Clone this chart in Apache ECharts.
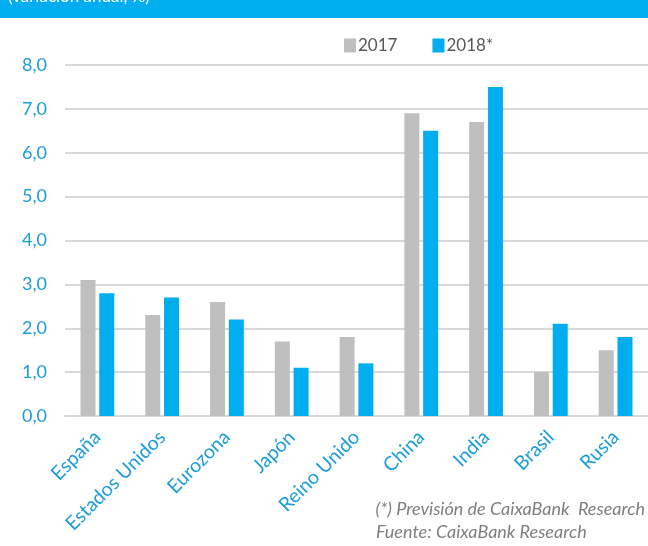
<!DOCTYPE html>
<html>
<head>
<meta charset="utf-8">
<script src="https://cdn.jsdelivr.net/npm/echarts@6/dist/echarts.min.js"></script>
<style>
  html, body { margin: 0; padding: 0; background: #fff; }
  #chart { width: 648px; height: 546px; }
</style>
</head>
<body>
<div id="chart"></div>
<script>
// datos
var paises = ['España', 'Estados Unidos', 'Eurozona', 'Japón', 'Reino Unido', 'China', 'India', 'Brasil', 'Rusia'];
var datos2017 = [3.1, 2.3, 2.6, 1.7, 1.8, 6.9, 6.7, 1.0, 1.5];
var datos2018 = [2.8, 2.7, 2.2, 1.1, 1.2, 6.5, 7.5, 2.1, 1.8];
var ticksY = [0, 1, 2, 3, 4, 5, 6, 7, 8];

var chart = echarts.init(document.getElementById('chart'));

var fuente = 'Lato, "Open Sans", sans-serif';

var option = {
    animation: false,
    textStyle: { fontFamily: fuente },
    legend: {
        data: ['2017', '2018*'],
        top: 32,
        left: 339,
        itemWidth: 12,
        itemHeight: 14,
        itemGap: 35,
        icon: 'rect',
        textStyle: { fontSize: 17, color: '#595959', fontFamily: fuente, padding: [0, 0, 0, -3] }
    },
    grid: {
        left: 65,
        right: -7,
        top: 65,
        bottom: 130,
        containLabel: false
    },
    xAxis: {
        type: 'category',
        data: paises,
        axisLine: { show: true, lineStyle: { color: '#d9d9d9', width: 2 } },
        axisTick: { show: false },
        axisLabel: {
            rotate: 45,
            interval: 0,
            color: '#1b9dd9',
            fontSize: 19.5,
            margin: 18
        }
    },
    yAxis: {
        type: 'value',
        min: ticksY[0],
        max: ticksY[ticksY.length - 1],
        interval: 1,
        axisLine: { show: false },
        axisTick: { show: false },
        splitLine: { lineStyle: { color: '#d9d9d9', width: 2 } },
        axisLabel: {
            color: '#1b9dd9',
            fontSize: 18,
            margin: 18,
            formatter: function (v) { return v.toFixed(1).replace('.', ','); }
        }
    },
    series: [
        {
            name: '2017',
            type: 'bar',
            data: datos2017,
            barWidth: 15,
            barGap: '25%',
            itemStyle: { color: '#bfbfbf' }
        },
        {
            name: '2018*',
            type: 'bar',
            data: datos2018,
            barWidth: 15,
            itemStyle: { color: '#00aeef' }
        }
    ],
    graphic: [
        {
            type: 'rect',
            left: 0,
            top: 0,
            shape: { width: 648, height: 18 },
            style: { fill: '#00aeef' }
        },
        {
            type: 'text',
            left: 8,
            top: -12,
            style: { text: '(variación anual, %)', fill: '#ffffff', font: '17px ' + fuente }
        },
        {
            type: 'text',
            right: 3,
            top: 500,
            style: { text: '(*) Previsión de CaixaBank  Research', fill: '#7f7f7f', font: 'italic 18px ' + fuente, textAlign: 'right' }
        },
        {
            type: 'text',
            left: 376,
            top: 523,
            style: { text: 'Fuente: CaixaBank Research', fill: '#7f7f7f', font: 'italic 18px ' + fuente }
        }
    ]
};

chart.setOption(option);
</script>
</body>
</html>
